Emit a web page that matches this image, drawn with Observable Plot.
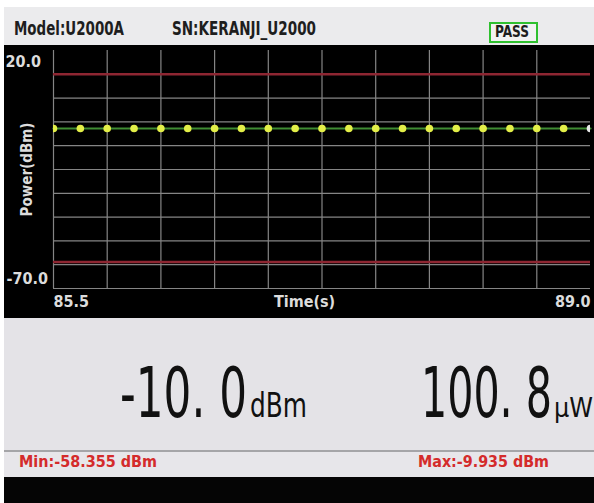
<!DOCTYPE html>
<html>
<head>
<meta charset="utf-8">
<script src="https://cdn.jsdelivr.net/npm/d3@7"></script>
<script src="https://cdn.jsdelivr.net/npm/@observablehq/plot@0.6"></script>
<style>
  html, body { margin: 0; padding: 0; background: #ffffff; }
  #root { position: relative; width: 594px; height: 503px; overflow: hidden; background: #ffffff;
          font-family: 'DejaVu Sans Condensed', 'DejaVu Sans', sans-serif; font-stretch: condensed; }
  .abs { position: absolute; white-space: pre; transform-origin: 0 0; }
  #header { position: absolute; left: 4px; top: 7px; width: 590px; height: 38px; background: #ebebed; border-bottom: 1px solid #8a8a8a; }
  #panel { position: absolute; left: 4px; top: 45px; width: 590px; height: 273px; background: #000; }
  #readout { position: absolute; left: 4px; top: 318px; width: 590px; height: 132px; background: #e4e3e7; }
  #sep { position: absolute; left: 4px; top: 450px; width: 590px; height: 2px; background: #a5a5a8; }
  #minmax { position: absolute; left: 4px; top: 452px; width: 590px; height: 25px; background: #e7e6ea; }
  #footer { position: absolute; left: 4px; top: 477px; width: 590px; height: 26px; background: #050505; }
  .hdr { font-weight: bold; font-size: 19px; line-height: 19px; color: #1e1e1e; }
  .big { font-size: 69px; line-height: 69px; color: #111; }
  .unit { font-size: 33px; line-height: 33px; color: #111; }
  .unit2 { font-size: 27px; line-height: 27px; color: #111; }
  .mm { font-weight: bold; font-size: 15px; line-height: 15px; color: #d42b2b; }
</style>
</head>
<body>
<div id="root">
  <div id="header"></div>
  <div class="abs hdr" data-fit="110" style="left:14px; top:19px;">Model:U2000A</div>
  <div class="abs hdr" data-fit="144" style="left:172px; top:19px;">SN:KERANJI_U2000</div>
  <div class="abs" style="left:489px; top:22px; width:45px; height:17px; border:2px solid #2fc02f; background:#f2f2f2;"></div>
  <div class="abs" data-fit="34" style="left:495px; top:24px; font-weight:bold; font-size:16px; line-height:16px; color:#1e1e1e;">PASS</div>
  <div id="panel"></div>
  <div id="readout"></div>
  <div class="abs big" data-fit="127" style="left:120px; top:359px;">-10. 0</div>
  <div class="abs unit" data-fit="57" style="left:250px; top:389px;">dBm</div>
  <div class="abs big" data-fit="131" style="left:421px; top:359px;">100. 8</div>
  <div class="abs unit2" data-fit="39" style="left:554px; top:394px;">μW</div>
  <div id="sep"></div>
  <div id="minmax"></div>
  <div class="abs mm" data-fit="138" style="left:19px; top:455px;">Min:-58.355 dBm</div>
  <div class="abs mm" data-fit="131" style="left:418px; top:455px;">Max:-9.935 dBm</div>
  <div id="footer"></div>
</div>
<script>
// ---- data ----
const times = [85.5, 85.675, 85.85, 86.025, 86.2, 86.375, 86.55, 86.725, 86.9, 87.075, 87.25,
               87.425, 87.6, 87.775, 87.95, 88.125, 88.3, 88.475, 88.65, 88.825, 89.0];
const power = [-9.5, -9.5, -9.5, -9.5, -9.5, -9.5, -9.5, -9.5, -9.5, -9.5, -9.5,
               -9.5, -9.5, -9.5, -9.5, -9.5, -9.5, -9.5, -9.5, -9.5, -9.5];
const limitLines = [11, -60];
const xGridTicks = [85.5, 85.85, 86.2, 86.55, 86.9, 87.25, 87.6, 87.95, 88.3, 88.65];
const yGridTicks = [11, 2, -7, -16, -25, -34, -43, -52, -61, -70];
const xDomain = [85.5, 89.0];
const yDomain = [-70, 20];
const yTopLabel = "20.0";
const yBottomLabel = "-70.0";
const xLeftLabel = "85.5";
const xRightLabel = "89.0";
const xTitle = "Time(s)";
const yTitle = "Power(dBm)";

const data = times.map((t, i) => ({time: t, power: power[i], cursor: i === times.length - 1}));

const labelFill = "#dcdcdc";
const chart = Plot.plot({
  width: 590,
  height: 273,
  marginLeft: 49,
  marginRight: 4,
  marginTop: 5,
  marginBottom: 30,
  x: {domain: xDomain, axis: null},
  y: {domain: yDomain, axis: null},
  style: {background: "#000", fontFamily: "'DejaVu Sans Condensed', 'DejaVu Sans', sans-serif", fontStretch: "condensed", fontWeight: "bold", fontSize: "16px"},
  marks: [
    Plot.ruleX(xGridTicks, {x: d => d, stroke: "#858585", strokeWidth: 1.2}),
    Plot.ruleY(yGridTicks, {y: d => d, stroke: "#858585", strokeWidth: 1.2}),
    Plot.ruleY(limitLines, {y: d => d, stroke: "#8e2632", strokeWidth: 2.4}),
    Plot.line(data, {x: "time", y: "power", stroke: "#3f8c33", strokeWidth: 2.2}),
    Plot.dot(data, {x: "time", y: "power", r: 3.8, fill: d => d.cursor ? "#e8e8e8" : "#e3ef48", stroke: "none", clip: true}),
    Plot.text([20], {y: d => d, text: () => yTopLabel, frameAnchor: "left", dx: -48, dy: 11, textAnchor: "start", lineAnchor: "middle", fill: labelFill}),
    Plot.text([-70], {y: d => d, text: () => yBottomLabel, frameAnchor: "left", dx: -47, dy: -9.5, textAnchor: "start", lineAnchor: "middle", fill: labelFill}),
    Plot.text([85.5], {x: d => d, text: () => xLeftLabel, frameAnchor: "bottom", dy: 13.5, textAnchor: "start", lineAnchor: "middle", fill: labelFill}),
    Plot.text([89.0], {x: d => d, text: () => xRightLabel, frameAnchor: "bottom", dy: 13.5, textAnchor: "end", lineAnchor: "middle", fill: labelFill}),
    Plot.text([xTitle], {text: d => d, frameAnchor: "bottom", dx: -17.5, dy: 13.5, textAnchor: "middle", lineAnchor: "middle", fill: labelFill}),
    Plot.text([yTitle], {text: d => d, frameAnchor: "left", dx: -26, rotate: -90, textAnchor: "middle", lineAnchor: "middle", fill: labelFill, fontSize: 15})
  ]
});
document.getElementById("panel").appendChild(chart);

// squeeze HTML texts horizontally to the widths they have in the reference
document.querySelectorAll("[data-fit]").forEach(el => {
  const target = +el.dataset.fit;
  const w = el.getBoundingClientRect().width;
  if (w > 0) el.style.transform = `scaleX(${target / w})`;
});
</script>
</body>
</html>
